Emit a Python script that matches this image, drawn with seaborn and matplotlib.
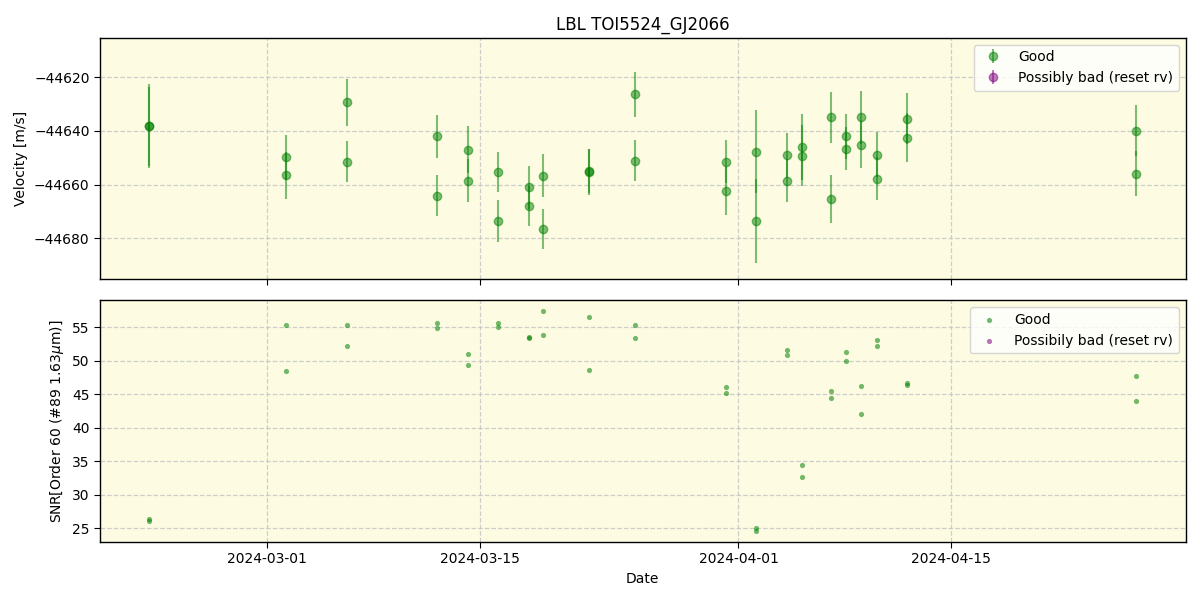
import matplotlib
matplotlib.use("Agg")
import matplotlib.pyplot as plt
import matplotlib.dates as mdates
import numpy as np
import pandas as pd
import seaborn as sns

# ---- data -------------------------------------------------------------
times = [
    "2024-02-22 05:40", "2024-02-22 05:50",
    "2024-03-02 05:25", "2024-03-02 05:35",
    "2024-03-06 05:40", "2024-03-06 05:50",
    "2024-03-12 04:15", "2024-03-12 04:25",
    "2024-03-14 04:45", "2024-03-14 04:55",
    "2024-03-16 04:45", "2024-03-16 04:55",
    "2024-03-18 05:40", "2024-03-18 05:50",
    "2024-03-19 03:45", "2024-03-19 03:55",
    "2024-03-22 03:45", "2024-03-22 03:55",
    "2024-03-25 04:25", "2024-03-25 04:35",
    "2024-03-31 04:15", "2024-03-31 04:25",
    "2024-04-02 03:30", "2024-04-02 03:40",
    "2024-04-04 04:25", "2024-04-04 04:35",
    "2024-04-05 04:15", "2024-04-05 04:25",
    "2024-04-07 02:05", "2024-04-07 02:15",
    "2024-04-08 01:35", "2024-04-08 01:45",
    "2024-04-09 01:20", "2024-04-09 01:30",
    "2024-04-10 02:35", "2024-04-10 02:45",
    "2024-04-12 02:05", "2024-04-12 02:15",
    "2024-04-27 04:00", "2024-04-27 04:10",
]
velocity = [
    -44638.1, -44638.3,
    -44649.9, -44656.6,
    -44629.4, -44651.5,
    -44642.1, -44664.1,
    -44647.0, -44658.6,
    -44655.3, -44673.5,
    -44661.1, -44668.0,
    -44656.8, -44676.6,
    -44655.0, -44655.4,
    -44626.4, -44651.1,
    -44651.5, -44662.4,
    -44647.8, -44673.5,
    -44649.1, -44658.6,
    -44645.9, -44649.3,
    -44635.0, -44665.4,
    -44642.1, -44646.6,
    -44635.0, -44645.1,
    -44648.9, -44657.9,
    -44635.4, -44642.5,
    -44639.9, -44656.0,
]
velocity_err = [
    15.6, 14.8,
    8.3, 8.9,
    8.7, 7.6,
    8.0, 7.8,
    8.8, 8.0,
    7.6, 7.8,
    7.9, 7.6,
    8.0, 7.4,
    8.1, 8.6,
    8.4, 7.6,
    8.0, 8.8,
    15.5, 15.6,
    8.3, 8.0,
    12.3, 11.4,
    9.5, 8.8,
    8.5, 8.0,
    9.9, 8.8,
    8.3, 8.0,
    9.4, 9.1,
    9.4, 8.4,
]
snr = [
    26.3, 26.0,
    55.4, 48.5,
    55.3, 52.3,
    55.7, 54.9,
    51.0, 49.4,
    55.6, 55.0,
    53.4, 53.5,
    57.4, 53.8,
    56.5, 48.6,
    55.3, 53.4,
    46.1, 45.2,
    25.0, 24.6,
    51.7, 50.9,
    34.5, 32.6,
    45.5, 44.5,
    51.3, 50.0,
    46.2, 42.1,
    53.1, 52.3,
    46.7, 46.4,
    47.7, 44.0,
]
tick_dates = ["2024-03-01", "2024-03-15", "2024-04-01", "2024-04-15"]

df = pd.DataFrame({
    "date": pd.to_datetime(times),
    "rv": velocity,
    "rv_err": velocity_err,
    "snr": snr,
})

# ---- figure -----------------------------------------------------------
sns.set_style("white")
plt.rcParams["font.family"] = ["DejaVu Sans"]
for key in ("text.color", "axes.labelcolor", "xtick.color", "ytick.color",
            "axes.edgecolor"):
    plt.rcParams[key] = "black"

fig, (ax1, ax2) = plt.subplots(2, 1, figsize=(12, 6), dpi=100, sharex=True)
fig.subplots_adjust(left=0.0833, right=0.988, top=0.937, bottom=0.097, hspace=0.088)

bg = "#fdfce3"
for ax in (ax1, ax2):
    ax.set_facecolor(bg)
    ax.grid(True, linestyle="--", color="#c8c8c8", linewidth=0.9, alpha=0.9)
    for s in ax.spines.values():
        s.set_color("black")
        s.set_linewidth(1.0)
    ax.tick_params(axis="both", which="both", direction="out", length=4,
                   width=0.8, color="black", labelcolor="black", labelsize=10,
                   bottom=True, left=True)

# top panel: RVs with error bars
ax1.errorbar(df["date"], df["rv"], yerr=df["rv_err"], fmt="o", color="green",
             alpha=0.5, markersize=6, elinewidth=1.5, label="Good")
ax1.errorbar([], [], yerr=[], fmt="o", color="purple", alpha=0.5,
             markersize=6, label="Possibly bad (reset rv)")
ax1.set_ylim(-44695.3, -44605.3)
ax1.set_yticks([-44620, -44640, -44660, -44680])
ax1.set_yticklabels(["\u221244620", "\u221244640", "\u221244660", "\u221244680"])
ax1.set_ylabel("Velocity [m/s]")
ax1.set_title("LBL TOI5524_GJ2066", fontsize=12, color="black")
ax1.legend(loc="upper right", fontsize=10, framealpha=0.8)

# bottom panel: SNR
sns.scatterplot(data=df, x="date", y="snr", ax=ax2, color="green", alpha=0.55,
                s=14, linewidth=0, label="Good")
ax2.scatter([], [], color="purple", alpha=0.55, s=14, linewidths=0,
            label="Possibily bad (reset rv)")
ax2.set_ylabel("SNR[Order 60 (#89 1.63$\\mu$m)]")
ax2.set_xlabel("Date")
ax2.set_yticks([25, 30, 35, 40, 45, 50, 55])
ax2.legend(loc="upper right", fontsize=10, framealpha=0.8)

ax2.set_xticks(pd.to_datetime(tick_dates))
ax2.xaxis.set_major_formatter(mdates.DateFormatter("%Y-%m-%d"))
ax1.tick_params(labelbottom=False)

fig.savefig("out.png", dpi=100)
